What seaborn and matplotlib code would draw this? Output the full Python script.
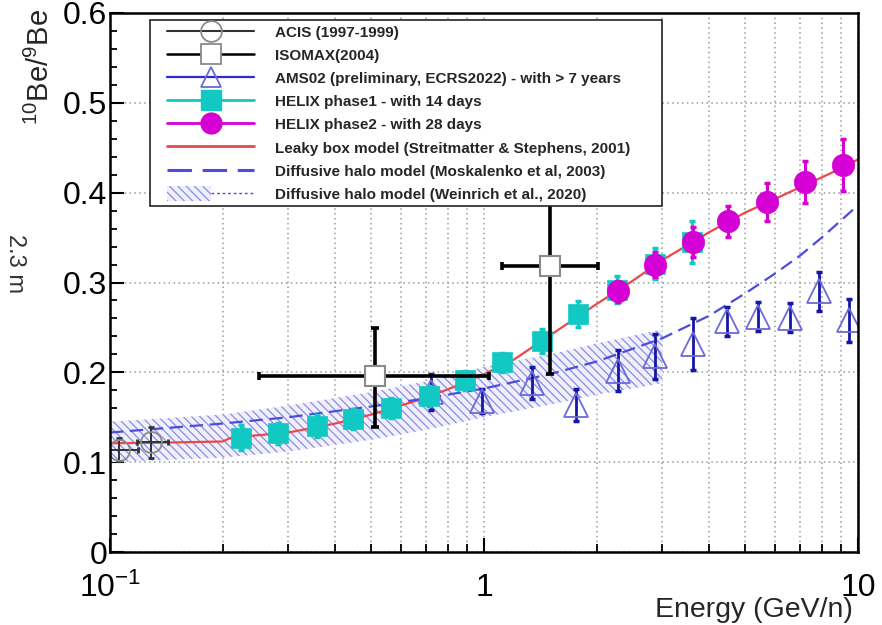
import numpy as np
import matplotlib
matplotlib.use("Agg")
import matplotlib.pyplot as plt
import seaborn as sns
from matplotlib.lines import Line2D
from matplotlib.patches import Patch
from matplotlib.legend_handler import HandlerTuple, HandlerLine2D
from matplotlib.ticker import FixedLocator, FixedFormatter, NullFormatter

# ---------------- data ----------------
acis_e = [0.106, 0.129]
acis_r = [0.114, 0.122]
acis_rerr = [0.013, 0.017]
acis_elo = [0.007, 0.011]
acis_ehi = [0.013, 0.014]

iso_e = [0.51, 1.50]
iso_r = [0.196, 0.318]
iso_rlo = [0.057, 0.120]
iso_rhi = [0.053, 0.130]
iso_elo = [0.26, 0.38]
iso_ehi = [0.52, 0.52]

ams_e = [0.72, 0.99, 1.34, 1.76, 2.28, 2.87, 3.62, 4.46, 5.40, 6.58, 7.86, 9.46]
ams_r = [0.178, 0.168, 0.188, 0.164, 0.202, 0.218, 0.232, 0.257, 0.262, 0.261, 0.290, 0.258]
ams_err = [0.020, 0.013, 0.018, 0.018, 0.023, 0.025, 0.029, 0.016, 0.016, 0.016, 0.022, 0.024]

h1_e = [0.224, 0.281, 0.357, 0.447, 0.564, 0.713, 0.889, 1.12, 1.43, 1.78, 2.27, 2.87, 3.60]
h1_r = [0.127, 0.132, 0.140, 0.148, 0.160, 0.174, 0.191, 0.211, 0.235, 0.265, 0.292, 0.321, 0.345]
h1_err = [0.014, 0.012, 0.012, 0.011, 0.011, 0.011, 0.011, 0.011, 0.013, 0.014, 0.015, 0.017, 0.023]

h2_e = [2.28, 2.87, 3.62, 4.49, 5.71, 7.21, 9.12]
h2_r = [0.290, 0.320, 0.345, 0.368, 0.390, 0.412, 0.431]
h2_err = [0.012, 0.014, 0.017, 0.017, 0.021, 0.023, 0.029]

lb_e = [0.1, 0.15, 0.2, 0.21, 0.22, 0.3, 0.4, 0.5, 0.6, 0.7, 0.8, 1.0, 1.2, 1.5, 2.0, 2.5, 3.0, 4.0, 5.0, 6.0, 7.0, 8.0, 9.0, 10.0]
lb_r = [0.121, 0.122, 0.123, 0.127, 0.128, 0.133, 0.143, 0.153, 0.163, 0.172, 0.181, 0.198, 0.214, 0.241, 0.276, 0.302, 0.325, 0.356, 0.378, 0.393, 0.406, 0.417, 0.427, 0.437]

mo_e = [0.1, 0.2, 0.3, 0.5, 0.7, 1.0, 1.5, 2.0, 3.0, 4.0, 5.0, 6.0, 7.0, 8.0, 10.0]
mo_r = [0.133, 0.143, 0.150, 0.162, 0.171, 0.182, 0.198, 0.212, 0.238, 0.263, 0.288, 0.310, 0.330, 0.350, 0.386]

wb_e = [0.1, 0.2, 0.3, 0.5, 0.7, 1.0, 1.5, 2.0, 3.0]
wb_lo = [0.100, 0.105, 0.112, 0.125, 0.136, 0.150, 0.164, 0.175, 0.188]
wb_hi = [0.145, 0.153, 0.163, 0.178, 0.190, 0.206, 0.220, 0.232, 0.248]

labels = [
    "ACIS (1997-1999)",
    "ISOMAX(2004)",
    "AMS02 (preliminary, ECRS2022) - with > 7 years",
    "HELIX phase1 - with 14 days",
    "HELIX phase2 - with 28 days",
    "Leaky box model (Streitmatter & Stephens, 2001)",
    "Diffusive halo model (Moskalenko et al, 2003)",
    "Diffusive halo model (Weinrich et al., 2020)",
]
x_major = [0.1, 1, 10]
x_major_labels = ["10$^{-1}$", "1", "10"]
x_minor = [0.2, 0.3, 0.4, 0.5, 0.6, 0.7, 0.8, 0.9, 2, 3, 4, 5, 6, 7, 8, 9]
y_major = [0, 0.1, 0.2, 0.3, 0.4, 0.5, 0.6]
y_major_labels = ["0", "0.1", "0.2", "0.3", "0.4", "0.5", "0.6"]

# ---------------- style ----------------
sns.set_style("ticks")
plt.rcParams['font.family'] = ['Liberation Sans', 'DejaVu Sans']
plt.rcParams['mathtext.fontset'] = 'custom'
plt.rcParams['mathtext.rm'] = 'Liberation Sans'
plt.rcParams['mathtext.it'] = 'Liberation Sans:italic'
plt.rcParams['mathtext.bf'] = 'Liberation Sans:bold'
plt.rcParams['hatch.linewidth'] = 0.9

C_CYAN = '#12c8c2'
C_MAG = '#d400d4'
C_RED = '#ec4848'
C_DASH = '#4c4ce0'
C_AMS_ERR = '#1616a6'
C_AMS_MK = '#6a6ad8'
C_HATCH = '#8c8ce4'
C_BANDFC = '#f0f0fc'

fig = plt.figure(figsize=(8.82, 6.25), dpi=100)
ax = fig.add_axes([110/882, 1-552/625, 748/882, 539/625])
ax.set_xscale('log')

# band
ax.fill_between(wb_e, wb_lo, wb_hi, facecolor=C_BANDFC, edgecolor=C_HATCH,
                hatch='\\\\\\\\', linewidth=0, zorder=1)

# model lines
sns.lineplot(x=lb_e, y=lb_r, ax=ax, color=C_RED, lw=1.6, zorder=3,
             estimator=None, sort=False)
sns.lineplot(x=mo_e, y=mo_r, ax=ax, color=C_DASH, lw=1.6, zorder=3.2,
             estimator=None, sort=False, linestyle=(0, (6, 3)))

# AMS02
ax.errorbar(ams_e, ams_r, yerr=ams_err, fmt='none', ecolor=C_AMS_ERR,
            elinewidth=2, capsize=2.5, capthick=2.5, zorder=4)
ax.plot(ams_e, ams_r, ls='none', marker='^', ms=17, mfc='none',
        mec=C_AMS_MK, mew=1.3, zorder=4.2)

# ACIS
ax.errorbar(acis_e, acis_r, yerr=acis_rerr, xerr=[acis_elo, acis_ehi], fmt='none',
            ecolor='#333333', elinewidth=1.4, capsize=2.5, capthick=2, zorder=5)
ax.plot(acis_e, acis_r, ls='none', marker='o', ms=15, mfc='none',
        mec='#8a8a8a', mew=1.3, zorder=5.2)

# HELIX phase 1
ax.errorbar(h1_e, h1_r, yerr=h1_err, fmt='none', ecolor=C_CYAN,
            elinewidth=2.2, capsize=2.5, capthick=2.5, zorder=6)
sns.scatterplot(x=h1_e, y=h1_r, ax=ax, marker='s', s=210, color=C_CYAN,
                edgecolor=C_CYAN, linewidth=0.5, zorder=6.2, legend=False)

# HELIX phase 2
ax.errorbar(h2_e, h2_r, yerr=h2_err, fmt='none', ecolor=C_MAG,
            elinewidth=2.2, capsize=2.5, capthick=2.5, zorder=7)
sns.scatterplot(x=h2_e, y=h2_r, ax=ax, marker='o', s=260, color=C_MAG,
                edgecolor=C_MAG, linewidth=0.5, zorder=7.2, legend=False)

# ISOMAX
ax.errorbar(iso_e, iso_r, yerr=[iso_rlo, iso_rhi], xerr=[iso_elo, iso_ehi], fmt='none',
            ecolor='black', elinewidth=2.6, capsize=3, capthick=2.6, zorder=8)
ax.plot(iso_e, iso_r, ls='none', marker='s', ms=14, mfc='white',
        mec='#8a8a8a', mew=1.5, zorder=8.2)

# axes, ticks, grid
ax.set_xlim(0.1, 10)
ax.set_ylim(0, 0.6)
ax.xaxis.set_major_locator(FixedLocator(x_major))
ax.xaxis.set_major_formatter(FixedFormatter(x_major_labels))
ax.xaxis.set_minor_locator(FixedLocator(x_minor))
ax.xaxis.set_minor_formatter(NullFormatter())
ax.yaxis.set_major_locator(FixedLocator(y_major))
ax.yaxis.set_major_formatter(FixedFormatter(y_major_labels))
ax.yaxis.set_minor_locator(FixedLocator(np.arange(0, 0.601, 0.02)))
ax.tick_params(which='both', direction='in', colors='black', labelsize=23)
ax.tick_params(axis='y', which='major', length=10, width=1.5, pad=2)
ax.tick_params(axis='y', which='minor', length=5, width=1.3)
ax.tick_params(axis='x', which='major', length=10, width=1.5, pad=15)
ax.tick_params(axis='x', which='minor', length=6, width=1.3)
for s in ax.spines.values():
    s.set_linewidth(1.8)
    s.set_color('black')
    s.set_zorder(20)

grid_kw = dict(color='#9a9a9a', linestyle=(0, (1, 2.2)), linewidth=1.1)
ax.grid(True, which='both', axis='x', **grid_kw)
ax.grid(True, which='major', axis='y', **grid_kw)
ax.set_axisbelow(True)
ax.set_xlabel('')
ax.set_ylabel('')

# legend
h_acis = Line2D([], [], color='#333333', lw=1.5, marker='o', ms=15, mfc='none', mec='#8a8a8a', mew=1.3)
h_iso = Line2D([], [], color='black', lw=1.8, marker='s', ms=14, mfc='white', mec='#8a8a8a', mew=1.3)
h_ams = Line2D([], [], color='#2a2ad0', lw=1.6, marker='^', ms=15, mfc='none', mec=C_AMS_MK, mew=1.3)
h_h1 = Line2D([], [], color=C_CYAN, lw=2, marker='s', ms=14, mfc=C_CYAN, mec=C_CYAN)
h_h2 = Line2D([], [], color=C_MAG, lw=2, marker='o', ms=15, mfc=C_MAG, mec=C_MAG)
h_lb = Line2D([], [], color=C_RED, lw=2)
h_mo = Line2D([], [], color=C_DASH, lw=2.2, ls=(0, (8, 3.5)))
h_wb = (Patch(facecolor=C_BANDFC, edgecolor=C_HATCH, hatch='\\\\\\\\', lw=0),
        Line2D([], [], color=C_DASH, lw=1.0, ls=(0, (2, 2))))
handles = [h_acis, h_iso, h_ams, h_h1, h_h2, h_lb, h_mo, h_wb]
XP = 0.85
leg = ax.legend(handles, labels, loc='upper left',
                bbox_to_anchor=(150/882, 1-205/625, 512/882, 185/625),
                bbox_transform=fig.transFigure, mode='expand',
                prop={'weight': 'bold', 'size': 11, 'family': ['Liberation Sans', 'DejaVu Sans']},
                handlelength=5.7 + XP, handleheight=1.1, handletextpad=1.35, labelspacing=0.5,
                borderpad=0.28, borderaxespad=0, frameon=True, fancybox=False,
                edgecolor='#222222', framealpha=1, facecolor='white',
                handler_map={Line2D: HandlerLine2D(xpad=XP),
                             tuple: HandlerTuple(ndivide=None, pad=0, xpad=XP)})
leg.get_frame().set_linewidth(1.2)
leg.set_zorder(30)

# texts outside the axes
fig.text(853/882, 1-610/625, 'Energy (GeV/n)', ha='right', va='center', fontsize=20.5)
fig.text(40/882, 1-9/625, '$^{10}$Be/$^{9}$Be', rotation=90, ha='center', va='top', fontsize=21)
fig.text(15/882, 1-263/625, '2.3 m', rotation=-90, ha='center', va='center', fontsize=17, color='#333333')

fig.savefig('out.png', dpi=100)
